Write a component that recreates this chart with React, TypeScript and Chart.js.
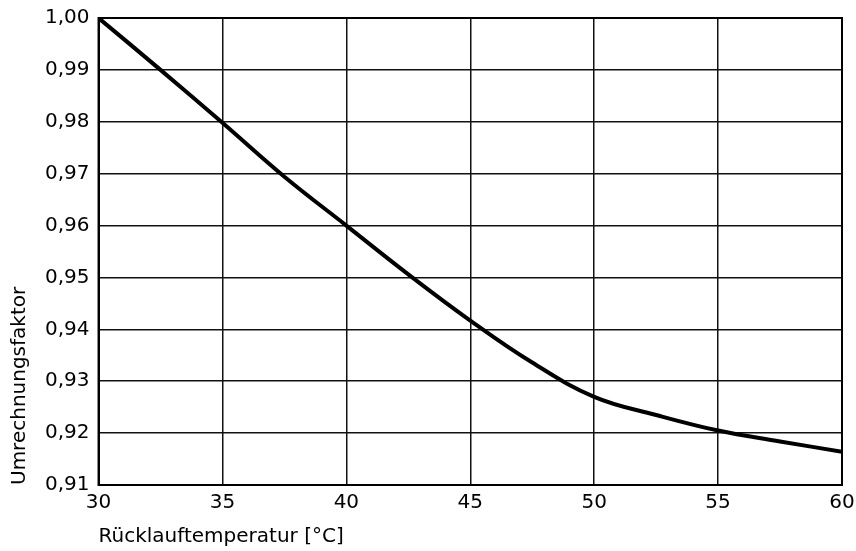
import React, { useEffect, useRef } from "react";
import { Chart, registerables } from "chart.js";

Chart.register(...registerables);

const temperatures = [30, 32.5, 35, 37.5, 40, 42.5, 45, 47.5, 50, 52.5, 55, 57.5, 60];
const factors = [1.0, 0.99, 0.9798, 0.9694, 0.96, 0.9506, 0.9417, 0.9336, 0.927, 0.9235, 0.9205, 0.9184, 0.9164];
const xTitle = "Rücklauftemperatur [°C]";
const yTitle = "Umrechnungsfaktor";

export default function App() {
  const ref = useRef<HTMLCanvasElement | null>(null);
  useEffect(() => {
    if (!ref.current) return;
    const font = { family: "'DejaVu Sans', sans-serif", size: 20 };
    const chart = new Chart(ref.current, {
      type: "line",
      data: {
        datasets: [
          {
            data: temperatures.map((t, i) => ({ x: t, y: factors[i] })),
            borderColor: "#000",
            borderWidth: 4,
            pointRadius: 0,
            tension: 0.4,
            fill: false,
          },
        ],
      },
      options: {
        animation: false,
        responsive: false,
        maintainAspectRatio: false,
        layout: { padding: { left: 8, top: 0, right: 0, bottom: 2 } },
        plugins: { legend: { display: false }, tooltip: { enabled: false } },
        scales: {
          x: {
            type: "linear",
            min: 30,
            max: 60,
            afterFit: (s: any) => {
              s.paddingRight = 14;
            },
            ticks: { stepSize: 5, color: "#000", font, padding: 6 },
            grid: { color: "#111", lineWidth: 1.5, drawTicks: false },
            border: { color: "#000", width: 2 },
            title: { display: true, text: xTitle, align: "start", color: "#000", font, padding: { top: 4, bottom: 0 } },
          },
          y: {
            type: "linear",
            min: 0.91,
            max: 1.0,
            afterFit: (s: any) => {
              s.paddingTop = 18;
            },
            ticks: {
              stepSize: 0.01,
              color: "#000",
              font,
              padding: 9,
              callback: (v: any) => Number(v).toFixed(2).replace(".", ","),
            },
            grid: { color: "#111", lineWidth: 1.5, drawTicks: false },
            border: { color: "#000", width: 2 },
            title: { display: true, text: yTitle, align: "start", color: "#000", font, padding: { top: 0, bottom: 4 } },
          },
        },
      },
      plugins: [
        {
          id: "frame",
          afterDraw(c: any) {
            const { ctx, chartArea } = c;
            ctx.save();
            ctx.strokeStyle = "#000";
            ctx.lineWidth = 2;
            ctx.strokeRect(chartArea.left, chartArea.top, chartArea.right - chartArea.left, chartArea.bottom - chartArea.top);
            ctx.restore();
          },
        },
      ],
    });
    return () => chart.destroy();
  }, []);
  return (
    <div style={{ position: "fixed", left: 0, top: 0, width: 856, height: 551, background: "#fff" }}>
      <canvas ref={ref} width={856} height={551} style={{ width: 856, height: 551 }} />
    </div>
  );
}
